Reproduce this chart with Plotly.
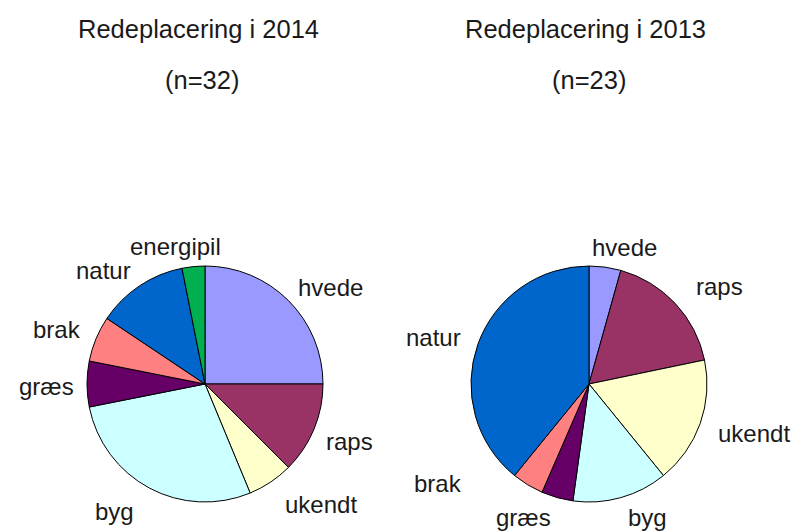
import math
import plotly.graph_objects as go

# Nest placement counts per crop, clockwise from 12 o'clock
crops_2014 = ["hvede", "raps", "ukendt", "byg", "græs", "brak", "natur", "energipil"]
nests_2014 = [8, 4, 2, 9, 2, 2, 4, 1]

crops_2013 = ["hvede", "raps", "ukendt", "byg", "græs", "brak", "natur"]
nests_2013 = [1, 4, 4, 3, 1, 1, 9]

titles = ["Redeplacering i 2014", "Redeplacering i 2013"]

crop_colors = {
    "hvede": "#9999FF",
    "raps": "#993366",
    "ukendt": "#FFFFCC",
    "byg": "#CCFFFF",
    "græs": "#660066",
    "brak": "#FF8080",
    "natur": "#0066CC",
    "energipil": "#00B050",
}

W, H = 793, 531
R = 118
TEXT_COLOR = "#1a1a1a"
FONT = "Liberation Sans, Arial, sans-serif"

# pie centres in pixels, and pixel nudges for each outside label
panels = [
    dict(labels=crops_2014, values=nests_2014, cx=205, cy=384, title_x=198,
         nudge={"hvede": (19, 10), "raps": (6, 0), "ukendt": (33, -4), "byg": (-20, -5),
                "græs": (-9, 3), "brak": (-9, 3), "natur": (-18, 11), "energipil": (-15, 12)}),
    dict(labels=crops_2013, values=nests_2013, cx=589, cy=384, title_x=585,
         nudge={"hvede": (15, 12), "raps": (21, 5), "ukendt": (24, -1), "byg": (18, -11),
                "græs": (-25, -11), "brak": (-73, -29), "natur": (-14, 4)}),
]

fig = go.Figure()
annotations = []

for title, p in zip(titles, panels):
    x0, x1 = (p["cx"] - R) / W, (p["cx"] + R) / W
    y0, y1 = 1 - (p["cy"] + R) / H, 1 - (p["cy"] - R) / H
    fig.add_trace(go.Pie(
        labels=p["labels"],
        values=p["values"],
        sort=False,
        direction="clockwise",
        rotation=0,
        marker=dict(colors=[crop_colors[c] for c in p["labels"]],
                    line=dict(color="#000000", width=1)),
        textinfo="none",
        hoverinfo="label+value+percent",
        domain=dict(x=[x0, x1], y=[y0, y1]),
        showlegend=False,
    ))

    # outside labels at each slice's mid angle
    total = sum(p["values"])
    cum = 0
    for lab, v in zip(p["labels"], p["values"]):
        mid = (cum + v / 2) / total * 2 * math.pi
        cum += v
        dx, dy = p["nudge"].get(lab, (0, 0))
        px = p["cx"] + 150 * math.sin(mid) + dx
        py = p["cy"] - 150 * math.cos(mid) + dy
        annotations.append(dict(
            x=px / W, y=1 - py / H, xref="paper", yref="paper",
            text=lab, showarrow=False, xanchor="center", yanchor="middle",
            font=dict(size=24, color=TEXT_COLOR, family=FONT),
        ))

    annotations.append(dict(
        x=p["title_x"] / W, y=1 - 29 / H, xref="paper", yref="paper",
        text=title, showarrow=False, xanchor="center", yanchor="middle",
        font=dict(size=25.5, color=TEXT_COLOR, family=FONT),
    ))
    annotations.append(dict(
        x=(p["title_x"] + 4) / W, y=1 - 80 / H, xref="paper", yref="paper",
        text=f"(n={total})", showarrow=False, xanchor="center", yanchor="middle",
        font=dict(size=25.5, color=TEXT_COLOR, family=FONT),
    ))

fig.update_layout(
    width=W, height=H,
    margin=dict(l=0, r=0, t=0, b=0),
    paper_bgcolor="white",
    plot_bgcolor="white",
    annotations=annotations,
)

fig.write_html("out.html")
